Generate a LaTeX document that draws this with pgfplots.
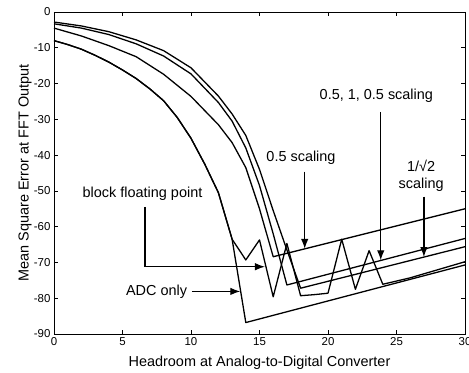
\documentclass[border=0pt]{standalone}
\usepackage{fontspec}
\setmainfont{Liberation Sans}
\usepackage{pgfplots}
\pgfplotsset{compat=1.18}
\usetikzlibrary{arrows.meta}
\begin{document}
\begin{tikzpicture}
\begin{axis}[
  scale only axis, width=411bp, height=322bp,
  xmin=0, xmax=30, ymin=-90, ymax=0,
  xtick={0,5,...,30}, ytick={-90,-80,...,0},
  minor tick num=0,
  tick style={black, line width=0.6pt},
  axis line style={line width=1pt},
  ticklabel style={font=\fontsize{11.5}{13}\selectfont},
  /pgf/number format/assume math mode=true,
  label style={font=\fontsize{14.5}{16}\selectfont},
  xlabel={Headroom at Analog-to-Digital Converter},
  ylabel={Mean Square Error at FFT Output},
  xlabel style={at={(axis description cs:0.5,-0.0885)}, anchor=center},
  ylabel style={at={(axis description cs:-0.0706,0.5)}, anchor=center},
  clip mode=individual,
]
\tikzset{crv/.style={black, line width=1.3pt, line join=round, mark=none}}
% ADC only
\addplot[crv] coordinates {(0,-8.0)(1,-9.1)(2,-10.4)(3,-12.1)(4,-14.0)(5,-16.2)(6,-18.6)(7,-21.5)(8,-24.8)(9,-29.5)(10,-35.3)(11,-42.5)(12,-50.5)(13,-63.5)(14,-86.8)(30,-70.7)};
% block floating point
\addplot[crv] coordinates {(0,-8.0)(1,-9.1)(2,-10.4)(3,-12.1)(4,-14.0)(5,-16.2)(6,-18.6)(7,-21.5)(8,-24.8)(9,-29.5)(10,-35.3)(11,-42.5)(12,-50.5)(13,-63.5)(14,-69.3)(15,-63.7)(16,-79.6)(17,-64.7)(18,-79.3)(19,-79.0)(20,-78.6)(21,-63.5)(22,-77.5)(23,-66.7)(24,-76.1)(26,-74.3)(30,-69.8)};
% 0.5 scaling
\addplot[crv] coordinates {(0,-4.5)(2,-6.7)(4,-9.4)(6,-12.5)(8,-17.4)(10,-23.6)(12,-31.5)(13,-36.5)(14,-43.5)(15,-55.0)(16,-68.4)(30,-55.0)};
% 0.5, 1, 0.5 scaling
\addplot[crv] coordinates {(0,-3.3)(2,-4.5)(4,-6.3)(6,-8.9)(8,-12.3)(10,-17.3)(12,-25.3)(13,-30.5)(14,-38.0)(15,-48.5)(16,-62.0)(17,-76.3)(30,-63.3)};
% 1/sqrt2 scaling
\addplot[crv] coordinates {(0,-2.8)(2,-3.9)(4,-5.5)(6,-7.8)(8,-10.8)(10,-15.6)(12,-23.5)(13,-28.5)(14,-34.5)(15,-44.0)(16,-55.5)(17,-66.5)(18,-77.2)(30,-65.6)};

\tikzset{ann/.style={font=\fontsize{14.5}{16.5}\selectfont, inner sep=0pt, align=center},
         arr/.style={line width=1.3pt, -{Latex[length=10bp,width=7.5bp]}}}
\node[ann] at (axis cs:6.46,-50.7) {block floating point};
\draw[arr] (axis cs:6.64,-54.5) -- (axis cs:6.64,-71.2) -- (axis cs:15.4,-71.2);
\node[ann] at (axis cs:7.49,-78.1) {ADC only};
\draw[arr] (axis cs:10.07,-78.1) -- (axis cs:13.6,-78.1);
\node[ann] at (axis cs:18.03,-40.7) {0.5 scaling};
\draw[arr] (axis cs:18.3,-44.6) -- (axis cs:18.3,-66.2);
\node[ann] at (axis cs:23.53,-23.4) {0.5, 1, 0.5 scaling};
\draw[arr] (axis cs:23.85,-27.9) -- (axis cs:23.85,-69.4);
\node[ann] at (axis cs:26.8,-45.8) {1/√2\\scaling};
\draw[arr] (axis cs:27.0,-51.6) -- (axis cs:27.0,-68.5);

\coordinate (SW) at (rel axis cs:0,0);
\coordinate (NE) at (rel axis cs:1,1);
\end{axis}
\pgfresetboundingbox
\path[use as bounding box] ([shift={(-54bp,-39bp)}]SW) rectangle ([shift={(4bp,12bp)}]NE);
\end{tikzpicture}
\end{document}
